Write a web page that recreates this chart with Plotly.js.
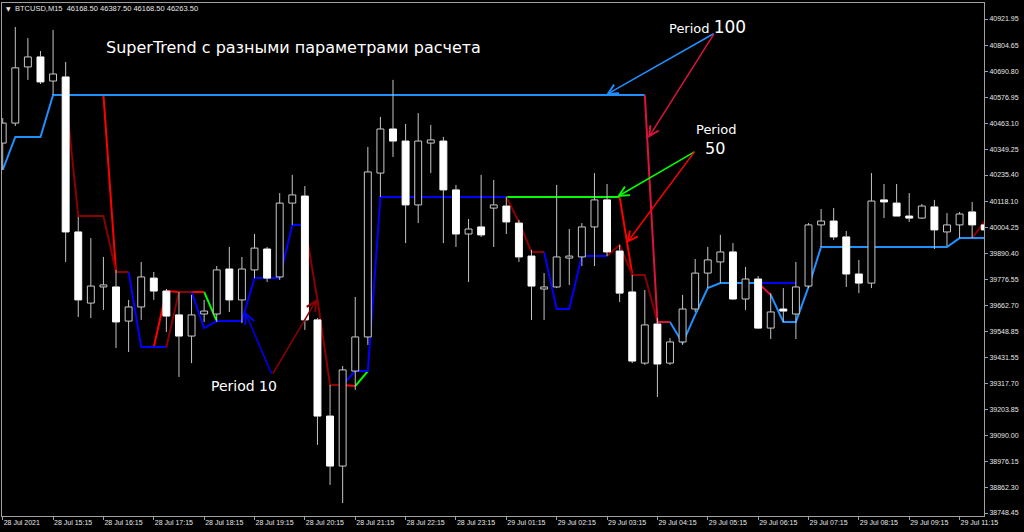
<!DOCTYPE html>
<html>
<head>
<meta charset="utf-8">
<script src="https://cdn.plot.ly/plotly-3.0.1.min.js"></script>
<style>
  html, body { margin: 0; padding: 0; background: #000; }
  #chart { width: 1024px; height: 532px; }
</style>
</head>
<body>
<div id="chart"></div>
<script>
// BTCUSD M15 candles, 28-29 Jul 2021 (bar index 0..78)
const openPrice = [
  40376, 40464, 40711, 40755, 40649, 40667, 39985, 39672, 39743, 39743,
  39593, 39655, 39782, 39725, 39620, 39527, 39624, 39624, 39822, 39686,
  39818, 39910, 39787, 40112, 40143, 39598, 39175, 38955, 39373, 39523,
  40244, 40438, 40385, 40104, 40376, 40385, 40170, 39976, 40007, 40090,
  40099, 40024, 39879, 39734, 39743, 39870, 39875, 40007, 40126, 39901,
  39721, 39408, 39580, 39408, 39501, 39646, 39804, 39853, 39897, 39690,
  39778, 39562, 39646, 39624, 39747, 40016, 40033, 39963, 39800, 39760,
  40126, 40112, 40055, 40046, 40095, 39985, 40016, 40073, 40016
];
const highPrice = [
  40486, 40887, 40838, 40781, 40874, 40733, 40051, 39958, 39875, 39818,
  39686, 39853, 39809, 39734, 39721, 39708, 39686, 39835, 39919, 39875,
  39976, 39919, 40156, 40236, 40187, 39606, 39312, 39395, 39699, 40359,
  40491, 40654, 40460, 40508, 40456, 40403, 40192, 40042, 40236, 40214,
  40139, 40038, 39906, 39804, 40192, 39998, 40024, 40244, 40196, 39928,
  39796, 39730, 39606, 39518, 39708, 39866, 39919, 39972, 39936, 39831,
  39791, 39716, 39738, 39853, 40024, 40086, 40090, 39989, 39862, 40244,
  40196, 40196, 40156, 40108, 40126, 40068, 40073, 40117, 40029
];
const lowPrice = [
  40258, 40451, 40654, 40636, 40588, 39853, 39611, 39606, 39642, 39474,
  39457, 39598, 39686, 39545, 39347, 39408, 39589, 39589, 39633, 39584,
  39782, 39765, 39774, 40016, 39554, 39048, 38872, 38792, 39290, 39488,
  40139, 40315, 39936, 40024, 40244, 39936, 39919, 39765, 39963, 39919,
  39976, 39853, 39598, 39598, 39738, 39752, 39835, 39835, 39879, 39677,
  39408, 39400, 39259, 39400, 39488, 39633, 39738, 39760, 39686, 39642,
  39558, 39514, 39589, 39514, 39738, 39919, 39950, 39743, 39716, 39738,
  40046, 40055, 40029, 40042, 39910, 39923, 39958, 39958, 39928
];
const closePrice = [
  40464, 40707, 40755, 40645, 40680, 39985, 39686, 39747, 39752, 39589,
  39655, 39787, 39725, 39615, 39527, 39620, 39637, 39818, 39686, 39822,
  39914, 39782, 40112, 40148, 39598, 39175, 38955, 39378, 39523, 40249,
  40438, 40385, 40104, 40385, 40390, 40170, 39976, 39998, 39972, 40104,
  40029, 39875, 39747, 39743, 39875, 39879, 40007, 40126, 39897, 39716,
  39417, 39576, 39404, 39501, 39646, 39804, 39862, 39897, 39690, 39778,
  39562, 39633, 39637, 39743, 40016, 40033, 39963, 39800, 39760, 40121,
  40117, 40055, 40046, 40099, 39994, 40016, 40064, 40016, 39994
];

// SuperTrend lines: value per bar and trend direction (1 up, -1 down, 0 none)
const st10 = [
  null, null, null, null, null, 40588, 40055, 40055, 40055, 39809,
  39809, 39479, 39479, 39479, 39721, 39721, 39562, 39593, 39593, 39593,
  39782, 39782, 39782, 40016, 40016, 39686, 39312, 39312, 39373, 39373,
  40139, 40139, 40139, 40139, 40139, 40139, 40139, 40139, 40139, 40139,
  40139, 40029, 39897, 39897, 39646, 39646, 39879, 39879, 39879, 39928,
  39796, 39796, 39589, 39589, null, null, null, null, null, null,
  39760, 39760, 39760, 39760, null, null, null, null, null, null,
  null, null, null, null, null, null, null, 39958, 40033
];
const st10Dir = [
  0, 0, 0, 0, 0, 1, -1, -1, -1, -1,
  -1, 1, 1, 1, -1, -1, 1, 1, 1, 1,
  1, 1, 1, 1, 1, -1, -1, -1, 1, 1,
  1, 1, 1, 1, 1, 1, 1, 1, 1, 1,
  1, -1, -1, -1, 1, 1, 1, 1, 1, -1,
  -1, -1, -1, -1, 0, 0, 0, 0, 0, 0,
  1, 1, 1, 1, 0, 0, 0, 0, 0, 0,
  0, 0, 0, 0, 0, 0, 0, 1, -1
];
const st50 = [
  null, null, null, null, null, null, null, null, 40588, 39809,
  null, null, 39479, 39725, 39721, 39721, 39721, 39593, null, null,
  null, null, null, null, null, null, null, 39312, 39307, 39373,
  null, null, null, null, null, null, null, null, null, null,
  40139, 40139, 40139, 40139, 40139, 40139, 40139, 40139, 40139, 40139,
  39800, null, null, null, null, null, null, null, null, null,
  null, null, null, null, null, null, null, null, null, null,
  null, null, null, null, null, null, null, null, null
];
const st50Dir = [
  0, 0, 0, 0, 0, 0, 0, 0, 1, -1,
  0, 0, -1, -1, -1, -1, -1, 1, 0, 0,
  0, 0, 0, 0, 0, 0, 0, -1, -1, 1,
  0, 0, 0, 0, 0, 0, 0, 0, 0, 0,
  1, 1, 1, 1, 1, 1, 1, 1, 1, 1,
  -1, 0, 0, 0, 0, 0, 0, 0, 0, 0,
  0, 0, 0, 0, 0, 0, 0, 0, 0, 0,
  0, 0, 0, 0, 0, 0, 0, 0, 0
];
const st100 = [
  40258, 40403, 40403, 40403, 40588, 40588, 40588, 40588, 40588, 40588,
  40588, 40588, 40588, 40588, 40588, 40588, 40588, 40588, 40588, 40588,
  40588, 40588, 40588, 40588, 40588, 40588, 40588, 40588, 40588, 40588,
  40588, 40588, 40588, 40588, 40588, 40588, 40588, 40588, 40588, 40588,
  40588, 40588, 40588, 40588, 40588, 40588, 40588, 40588, 40588, 40588,
  40588, 40588, 39589, 39589, 39496, 39620, 39738, 39760, 39760, 39760,
  39760, 39708, 39589, 39589, 39743, 39919, 39919, 39919, 39919, 39919,
  39919, 39919, 39919, 39919, 39919, 39919, 39958, 39958, 39958
];
const st100Dir = [
  1, 1, 1, 1, 1, 1, 1, 1, 1, 1,
  1, 1, 1, 1, 1, 1, 1, 1, 1, 1,
  1, 1, 1, 1, 1, 1, 1, 1, 1, 1,
  1, 1, 1, 1, 1, 1, 1, 1, 1, 1,
  1, 1, 1, 1, 1, 1, 1, 1, 1, 1,
  1, 1, -1, -1, 1, 1, 1, 1, 1, 1,
  1, -1, 1, 1, 1, 1, 1, 1, 1, 1,
  1, 1, 1, 1, 1, 1, 1, 1, 1
];

// Axis labels
const timeTickBars = [0, 4, 8, 12, 16, 20, 24, 28, 32, 36, 40, 44, 48, 52, 56, 60, 64, 68, 72, 76];
const timeLabels = [
  '28 Jul 2021', '28 Jul 15:15', '28 Jul 16:15', '28 Jul 17:15', '28 Jul 18:15',
  '28 Jul 19:15', '28 Jul 20:15', '28 Jul 21:15', '28 Jul 22:15', '28 Jul 23:15',
  '29 Jul 01:15', '29 Jul 02:15', '29 Jul 03:15', '29 Jul 04:15', '29 Jul 05:15',
  '29 Jul 06:15', '29 Jul 07:15', '29 Jul 08:15', '29 Jul 09:15', '29 Jul 11:15'
];
const priceTicks = [
  40921.95, 40804.65, 40690.80, 40576.95, 40463.10, 40349.25, 40235.40,
  40118.10, 40004.25, 39890.40, 39776.55, 39662.70, 39548.85, 39431.55,
  39317.70, 39203.85, 39090.00, 38976.15, 38862.30, 38748.45
];

// ---------- drawing ----------
const X_RANGE = [-0.056, 77.94];
const Y_RANGE = [38735.25, 40992.35];
const W = 1024, H = 532, ML = 2, MR = 40, MT = 3, MB = 16;
const PW = W - ML - MR, PH = H - MT - MB;
const px = x => (x - ML) / PW;        // pixel -> paper x
const py = y => (H - MB - y) / PH;    // pixel -> paper y

// Split a trend line into polylines of one direction
function trendPath(vals, dirs, want) {
  const xs = [], ys = [];
  let last = -2;
  for (let i = 1; i < vals.length; i++) {
    if (vals[i] == null || vals[i - 1] == null || dirs[i] !== want) continue;
    if (last !== i - 1) {
      if (xs.length) { xs.push(null); ys.push(null); }
      xs.push(i - 1); ys.push(vals[i - 1]);
    }
    xs.push(i); ys.push(vals[i]);
    last = i;
  }
  return { x: xs, y: ys };
}

function lineTrace(vals, dirs, want, color) {
  const p = trendPath(vals, dirs, want);
  return {
    type: 'scatter', mode: 'lines', x: p.x, y: p.y,
    line: { color: color, width: 2 }, hoverinfo: 'skip',
    xaxis: 'x', yaxis: 'y'
  };
}

const traces = [
  lineTrace(st50, st50Dir, 1, '#00ff00'),
  lineTrace(st50, st50Dir, -1, '#ff0000'),
  lineTrace(st10, st10Dir, 1, '#0000ff'),
  lineTrace(st10, st10Dir, -1, '#8b0000'),
  lineTrace(st100, st100Dir, 1, '#1e90ff'),
  lineTrace(st100, st100Dir, -1, '#dc143c')
];

// Candles are drawn on an overlay subplot so they sit above the indicator lines
const bars = openPrice.map((_, i) => i);
const wickX = [], wickY = [];
bars.forEach(i => {
  const top = Math.max(openPrice[i], closePrice[i]);
  const bot = Math.min(openPrice[i], closePrice[i]);
  wickX.push(i, i, null, i, i, null);
  wickY.push(highPrice[i], top, null, bot, lowPrice[i], null);
});
traces.push({
  type: 'scatter', mode: 'lines', x: wickX, y: wickY,
  line: { color: '#c4c4c4', width: 1 }, hoverinfo: 'skip',
  xaxis: 'x2', yaxis: 'y2'
});

const upBars = bars.filter(i => closePrice[i] >= openPrice[i]);
const downBars = bars.filter(i => closePrice[i] < openPrice[i]);
traces.push({
  type: 'bar', x: upBars,
  base: upBars.map(i => openPrice[i]),
  y: upBars.map(i => closePrice[i] - openPrice[i]),
  width: 0.55,
  marker: { color: '#000000', line: { color: '#c8c8c8', width: 1 } },
  hoverinfo: 'skip', xaxis: 'x2', yaxis: 'y2'
});
traces.push({
  type: 'bar', x: downBars,
  base: downBars.map(i => closePrice[i]),
  y: downBars.map(i => openPrice[i] - closePrice[i]),
  width: 0.55,
  marker: { color: '#ffffff', line: { color: '#ffffff', width: 1 } },
  hoverinfo: 'skip', xaxis: 'x2', yaxis: 'y2'
});

const tickFont = { family: 'Liberation Sans, Arial, sans-serif', size: 7, color: '#e6e6e6' };
const noteFont = (size) => ({ family: 'DejaVu Sans, sans-serif', size: size, color: '#ffffff' });

function arrow(x, y, ax, ay, color) {
  return {
    x: x, y: y, xref: 'x', yref: 'y', ax: ax, ay: ay,
    text: '', showarrow: true, arrowhead: 5, arrowsize: 1.3,
    arrowwidth: 1.5, arrowcolor: color, standoff: 0, startstandoff: 0
  };
}

const annotations = [
  { xref: 'paper', yref: 'paper', x: px(4), y: py(8), xanchor: 'left', yanchor: 'middle',
    text: '\u25BC', showarrow: false, font: { family: 'DejaVu Sans', size: 6, color: '#e6e6e6' } },
  { xref: 'paper', yref: 'paper', x: px(13), y: py(8), xanchor: 'left', yanchor: 'middle',
    text: 'BTCUSD,M15  46168.50 46387.50 46168.50 46263.50', showarrow: false,
    font: { family: 'Liberation Sans, Arial, sans-serif', size: 7.5, color: '#e6e6e6' } },
  { xref: 'paper', yref: 'paper', x: px(104), y: py(47), xanchor: 'left', yanchor: 'middle',
    text: 'SuperTrend с разными параметрами расчета', showarrow: false, font: noteFont(16) },
  { xref: 'paper', yref: 'paper', x: px(667), y: py(27), xanchor: 'left', yanchor: 'middle',
    text: 'Period <span style="font-size:17px">100</span>', showarrow: false, font: noteFont(13) },
  { xref: 'paper', yref: 'paper', x: px(694), y: py(129), xanchor: 'left', yanchor: 'middle',
    text: 'Period', showarrow: false, font: noteFont(13) },
  { xref: 'paper', yref: 'paper', x: px(703), y: py(148), xanchor: 'left', yanchor: 'middle',
    text: '50', showarrow: false, font: noteFont(16) },
  { xref: 'paper', yref: 'paper', x: px(209), y: py(386), xanchor: 'left', yanchor: 'middle',
    text: 'Period 10', showarrow: false, font: noteFont(14) },
  arrow(47.92, st100[47], 109, -62, '#1e90ff'),
  arrow(51.26, 40398, 67, -106, '#dc143c'),
  arrow(48.79, st50[48], 79, -46, '#00ff00'),
  arrow(49.56, 39936, 69, -93, '#ff0000'),
  arrow(19.25, 39633, 27, 63, '#0000ff'),
  arrow(24.97, 39690, -45, 76, '#8b0000')
];

const frame = '#a0a0a0';
const layout = {
  width: W, height: H,
  paper_bgcolor: '#000000', plot_bgcolor: '#000000',
  margin: { l: ML, r: MR, t: MT, b: MB, pad: 0 },
  showlegend: false,
  barmode: 'overlay',
  xaxis: {
    range: X_RANGE, showgrid: false, zeroline: false,
    showline: true, mirror: true, linecolor: frame, linewidth: 1,
    ticks: 'outside', ticklen: 3, tickcolor: frame,
    tickvals: timeTickBars, ticktext: timeLabels,
    ticklabelposition: 'outside right', tickfont: tickFont
  },
  yaxis: {
    range: Y_RANGE, side: 'right', showgrid: false, zeroline: false,
    showline: true, mirror: true, linecolor: frame, linewidth: 1,
    ticks: 'outside', ticklen: 3, tickcolor: frame,
    tickvals: priceTicks, ticktext: priceTicks.map(v => v.toFixed(2)),
    tickfont: tickFont
  },
  xaxis2: { overlaying: 'x', anchor: 'y2', range: X_RANGE, visible: false },
  yaxis2: { overlaying: 'y', anchor: 'x2', range: Y_RANGE, visible: false },
  annotations: annotations
};

Plotly.newPlot('chart', traces, layout, { staticPlot: true, displayModeBar: false });
</script>
</body>
</html>
